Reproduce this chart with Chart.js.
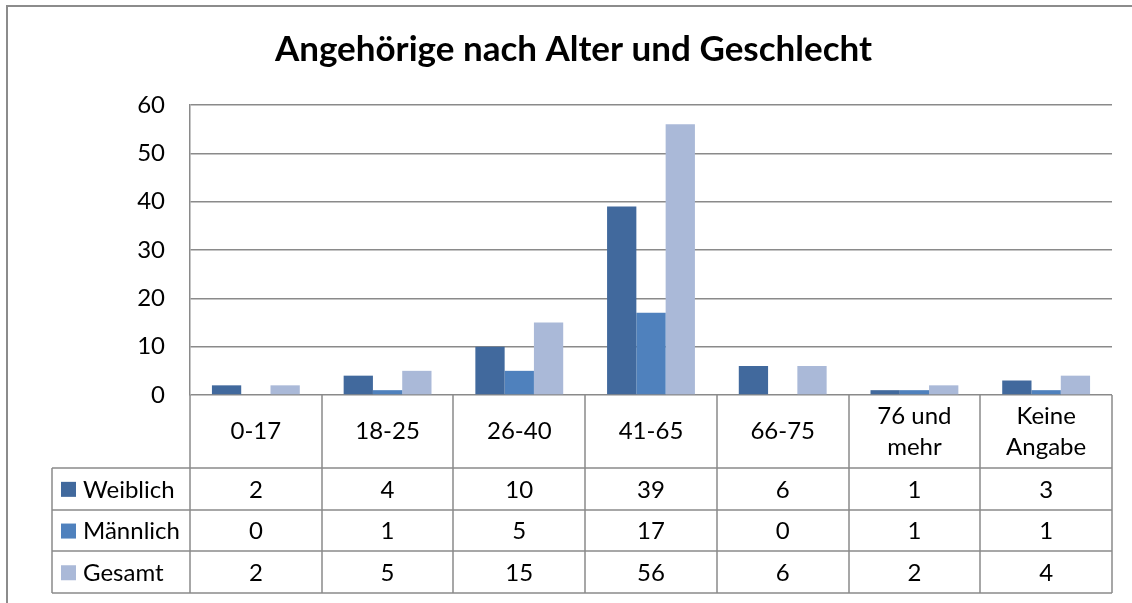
<!DOCTYPE html>
<html>
<head>
<meta charset="utf-8">
<script src="https://cdn.jsdelivr.net/npm/chart.js@4/dist/chart.umd.min.js"></script>
<style>
  html, body { margin: 0; padding: 0; background: #fff; }
  #wrap { width: 1132px; height: 603px; }
</style>
</head>
<body>
<div id="wrap"><canvas id="c" width="1132" height="603"></canvas></div>
<script>
// ===== DATA =====
const categories = ['0-17', '18-25', '26-40', '41-65', '66-75', ['76 und', 'mehr'], ['Keine', 'Angabe']];
const seriesNames = ['Weiblich', 'Männlich', 'Gesamt'];
const weiblich = [2, 4, 10, 39, 6, 1, 3];
const maennlich = [0, 1, 5, 17, 0, 1, 1];
const gesamt = [2, 5, 15, 56, 6, 2, 4];
const yTicks = [0, 10, 20, 30, 40, 50, 60];

const colors = ['#41699D', '#4F81BD', '#AAB9D8'];
const lineCol = '#8a8a8a';
const FONT = 'Lato, "Open Sans", sans-serif';

// Data table under the plot (Excel style), built from the x scale
const dataTable = {
    id: 'dataTable',
    beforeDraw(chart) {
        const ctx = chart.ctx;
        ctx.save();
        ctx.fillStyle = '#fff';
        ctx.fillRect(0, 0, chart.width, chart.height);
        ctx.strokeStyle = '#8c8c8c';
        ctx.lineWidth = 2;
        ctx.strokeRect(7, 6, chart.width + 20, chart.height + 20);
        ctx.restore();
    },
    afterDraw(chart) {
        const ctx = chart.ctx;
        const xs = chart.scales.x;
        const area = chart.chartArea;
        const n = categories.length;
        const w = area.width / n;
        const headTop = area.bottom;
        const headBot = 468;
        const rowH = 41.7;
        const tableLeft = 52;
        const rows = [weiblich, maennlich, gesamt];

        ctx.save();
        ctx.strokeStyle = lineCol;
        ctx.lineWidth = 1.5;

        // vertical lines
        for (let k = 0; k <= n; k++) {
            const x = Math.round(area.left + k * w);
            ctx.beginPath();
            ctx.moveTo(x, headTop);
            ctx.lineTo(x, headBot + rowH * 3);
            ctx.stroke();
        }
        ctx.beginPath();
        ctx.moveTo(tableLeft, headBot);
        ctx.lineTo(tableLeft, headBot + rowH * 3);
        ctx.stroke();

        // horizontal lines
        for (let r = 0; r <= 3; r++) {
            const y = Math.round(headBot + r * rowH);
            ctx.beginPath();
            ctx.moveTo(tableLeft, y);
            ctx.lineTo(area.right, y);
            ctx.stroke();
        }

        ctx.fillStyle = '#000';
        ctx.font = '24px ' + FONT;
        ctx.textAlign = 'center';
        ctx.textBaseline = 'middle';

        // header cells
        categories.forEach((c, i) => {
            const cx = xs.getPixelForValue(i);
            const lines = Array.isArray(c) ? c : [c];
            const lh = 31;
            const cy = (headTop + headBot) / 2;
            lines.forEach((t, j) => {
                ctx.fillText(t, cx, cy + (j - (lines.length - 1) / 2) * lh);
            });
        });

        // rows
        rows.forEach((vals, r) => {
            const cy = headBot + r * rowH + rowH / 2;
            ctx.textAlign = 'center';
            vals.forEach((v, i) => {
                ctx.fillText(String(v), xs.getPixelForValue(i), cy + 1);
            });
            ctx.fillStyle = colors[r];
            ctx.fillRect(61, cy - 7, 15, 15);
            ctx.fillStyle = '#000';
            ctx.textAlign = 'left';
            ctx.fillText(seriesNames[r], 83, cy + 1);
        });
        ctx.restore();
    }
};

new Chart(document.getElementById('c'), {
    type: 'bar',
    data: {
        labels: categories,
        datasets: [
            { label: seriesNames[0], data: weiblich, backgroundColor: colors[0] },
            { label: seriesNames[1], data: maennlich, backgroundColor: colors[1] },
            { label: seriesNames[2], data: gesamt, backgroundColor: colors[2] }
        ]
    },
    options: {
        responsive: false,
        animation: false,
        categoryPercentage: 0.667,
        barPercentage: 1,
        layout: { padding: { left: 35, right: 20, top: 10, bottom: 208 } },
        plugins: {
            legend: { display: false },
            tooltip: { enabled: false },
            title: {
                display: true,
                text: 'Angehörige nach Alter und Geschlecht',
                color: '#000',
                font: { family: FONT, size: 35, weight: 'bold', lineHeight: 1.2 },
                padding: { top: 19, bottom: 34 }
            }
        },
        scales: {
            x: { display: false },
            y: {
                min: 0, max: 60,
                afterFit: s => { s.width = 155; },
                afterBuildTicks: s => { s.ticks = yTicks.map(v => ({ value: v })); },
                grid: { color: lineCol, lineWidth: 1.5, drawTicks: false },
                border: { color: lineCol, width: 1.5 },
                ticks: { color: '#000', padding: 25, font: { family: FONT, size: 24 } }
            }
        }
    },
    plugins: [dataTable]
});
</script>
</body>
</html>
